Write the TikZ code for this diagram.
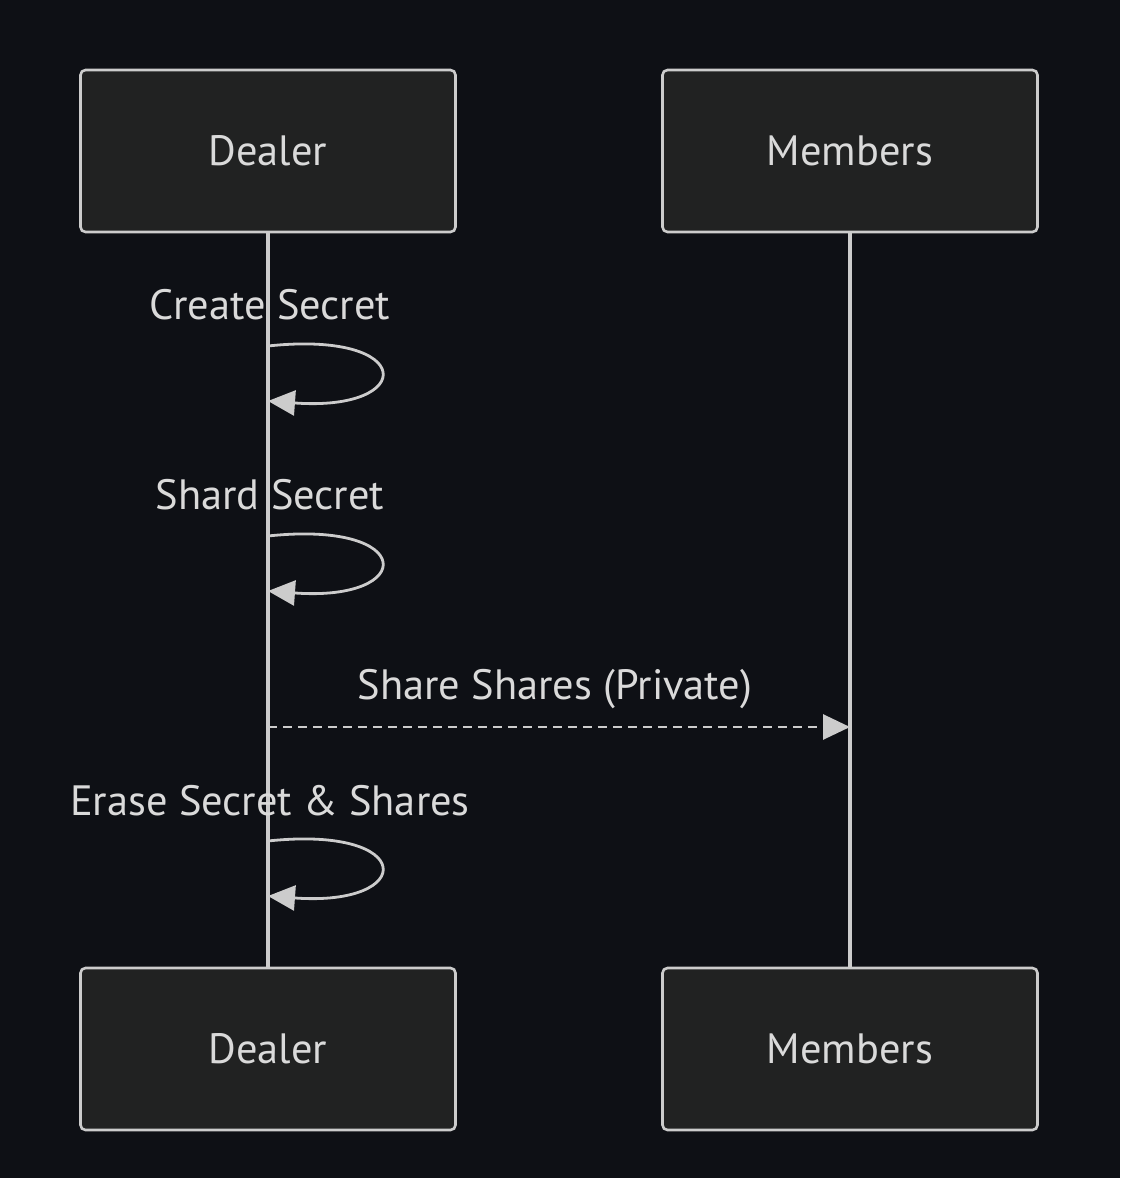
\documentclass[tikz,border=0pt]{standalone}
\usepackage{fontspec}
\setmainfont{PT Sans}
\usetikzlibrary{arrows.meta,positioning}
\definecolor{bgcolor}{RGB}{14, 16, 21}
\definecolor{actorcolor}{RGB}{33, 34, 34}
\definecolor{linecolor}{RGB}{204, 204, 204}
\definecolor{labelcolor}{RGB}{218, 218, 218}
\tikzset{
actortext/.style={
  align=center,
  font=\fontsize{21.2}{25}\selectfont,
  text=labelcolor
},
actorbox/.style={
  draw=linecolor,
  line width=1.3pt,
  rounded corners=2.5pt,
  fill=actorcolor,
  minimum width=187.5pt,
  minimum height=81pt,
  actortext
},
msglabel/.style={
  font=\fontsize{21.2}{25}\selectfont,
  text=labelcolor,
  anchor=base
},
lifeline/.style={
  draw=linecolor,
  line width=2pt
},
arrow/.style={
  -{Triangle[length=13.5pt,width=12.5pt]},
  line width=1.4pt,
  draw=linecolor,
  fill=none
},
dashedarrow/.style={
  arrow,
  dash pattern=on 4.5pt off 3pt
}
}
\begin{document}
\begin{tikzpicture}[x=0.5pt,y=-0.5pt]
  \fill[bgcolor] (0,0) rectangle (1120,1178);
  \useasboundingbox (0,0) rectangle (1120,1178);

  % actors
  \node[actorbox] (dealertop) at (268,151) {Dealer};
  \node[actorbox] (memberstop) at (850,151) {Members};
  \node[actorbox] (dealerbot) at (268,1049) {Dealer};
  \node[actorbox] (membersbot) at (850,1049) {Members};

  % lifelines
  \draw[lifeline] (dealertop.south) -- (dealerbot.north);
  \draw[lifeline] (memberstop.south) -- (membersbot.north);

  % create secret
  \node[msglabel] (create) at (270,319) {Create Secret};
  \coordinate (createin) at (268,346);
  \coordinate (createout) at (268,401);
  \draw[arrow] (createin) .. controls (417,330) and (417,412) .. (createout);

  % shard secret
  \node[msglabel] (shard) at (270,509) {Shard Secret};
  \coordinate (shardin) at (268,536);
  \coordinate (shardout) at (268,591);
  \draw[arrow] (shardin) .. controls (417,520) and (417,602) .. (shardout);

  % share shares
  \node[msglabel] (share) at (555,699) {Share Shares (Private)};
  \coordinate (sharefrom) at (268,727);
  \coordinate (shareto) at (850,727);
  \draw[dashedarrow] (sharefrom) -- (shareto);

  % erase
  \node[msglabel] (erase) at (270,815) {Erase Secret \& Shares};
  \coordinate (erasein) at (268,841);
  \coordinate (eraseout) at (268,896);
  \draw[arrow] (erasein) .. controls (417,825) and (417,907) .. (eraseout);
\end{tikzpicture}
\end{document}
